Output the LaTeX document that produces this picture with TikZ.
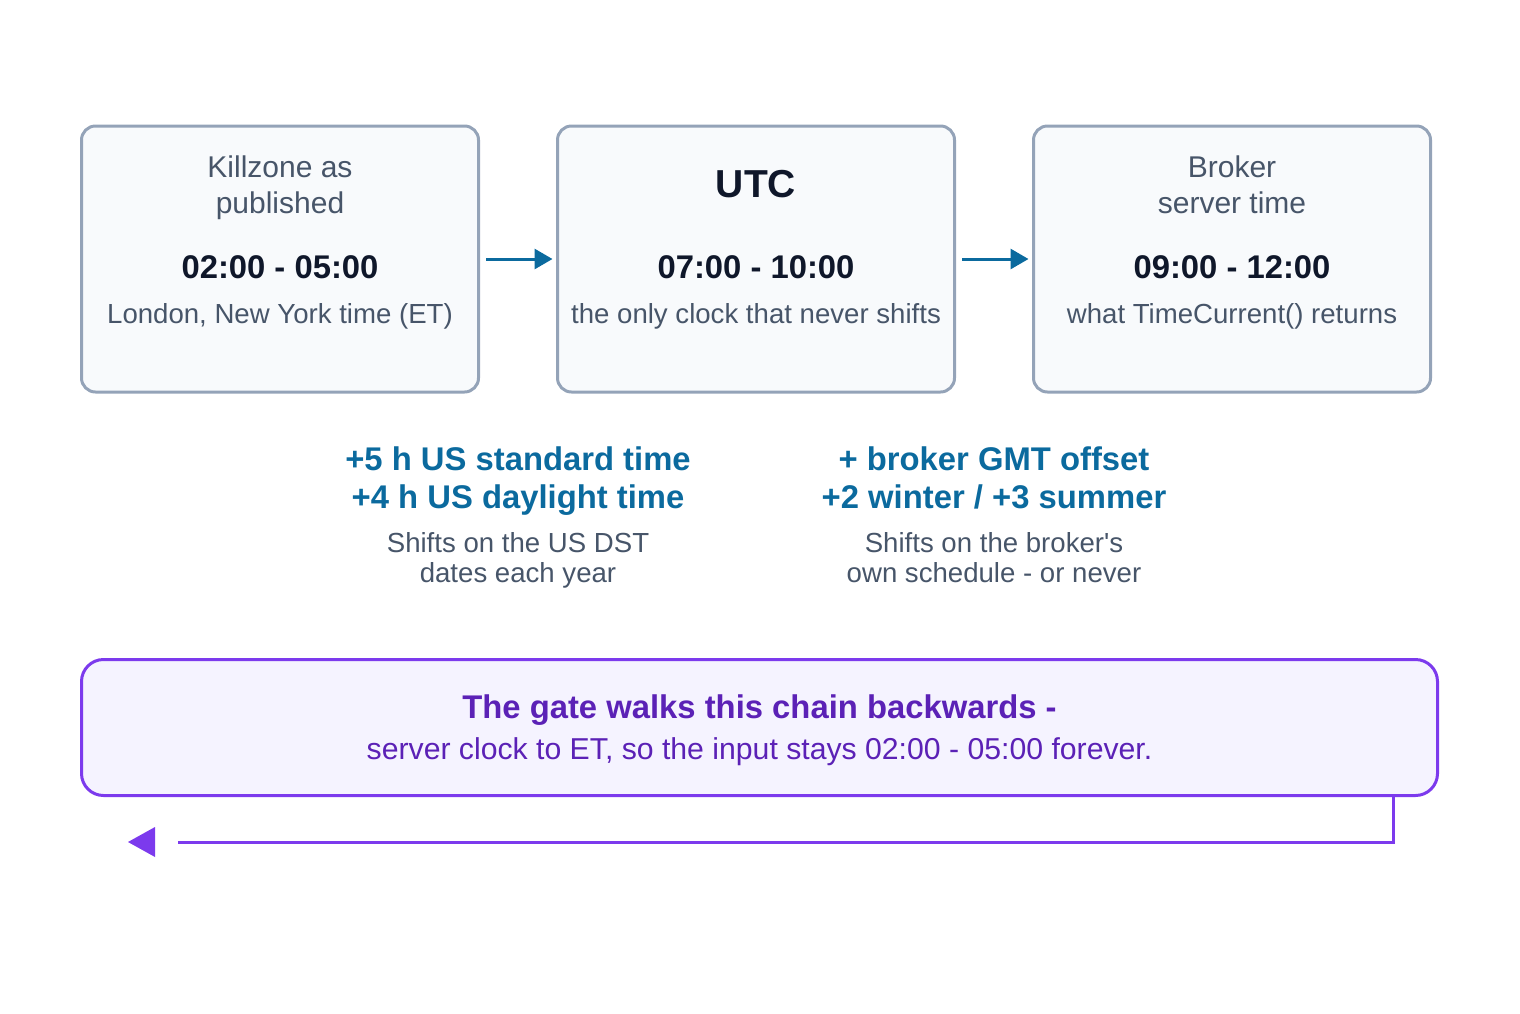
\documentclass[tikz,border=0pt]{standalone}
\usepackage{fontspec}
\setmainfont{Liberation Sans}
\usepackage{xcolor}
\usepackage{tikz}
\usetikzlibrary{arrows.meta}
\definecolor{boxline}{HTML}{94A3B8}
\definecolor{boxfill}{HTML}{F8FAFC}
\definecolor{inktext}{HTML}{0F172A}
\definecolor{softtext}{HTML}{475569}
\definecolor{shiftblue}{HTML}{0B6A9E}
\definecolor{gateline}{HTML}{7C3AED}
\definecolor{gatefill}{HTML}{F5F3FF}
\definecolor{gatetext}{HTML}{5B21B6}
\tikzset{
  clockbox/.style={draw=boxline, fill=boxfill, line width=1.5pt, rounded corners=7pt,
    minimum width=198.5pt, minimum height=133pt, inner sep=0pt},
  gatebox/.style={draw=gateline, fill=gatefill, line width=1.5pt, rounded corners=11pt,
    minimum width=678pt, minimum height=68pt, inner sep=0pt},
  titletext/.style={anchor=base, inner sep=0pt, text=softtext, font=\fontsize{15}{18}\selectfont},
  utctext/.style={anchor=base, inner sep=0pt, text=inktext, font=\bfseries\fontsize{19.5}{23}\selectfont},
  timetext/.style={anchor=base, inner sep=0pt, text=inktext, font=\bfseries\fontsize{16.4}{19}\selectfont},
  subtext/.style={anchor=base, inner sep=0pt, text=softtext, font=\fontsize{13.8}{16}\selectfont},
  shifttext/.style={anchor=base, inner sep=0pt, text=shiftblue, font=\bfseries\fontsize{16.4}{19}\selectfont},
  notetext/.style={anchor=base, inner sep=0pt, text=softtext, font=\fontsize{13.8}{16}\selectfont},
  gatehead/.style={anchor=base, inner sep=0pt, text=gatetext, font=\bfseries\fontsize{16.4}{19}\selectfont},
  gatesub/.style={anchor=base, inner sep=0pt, text=gatetext, font=\fontsize{15.1}{18}\selectfont},
  hop/.style={draw=shiftblue, line width=1.5pt, shorten <=3pt, shorten >=1.75pt,
    -{Triangle[length=9pt,width=10pt]}},
  backline/.style={draw=gateline, line width=1.5pt},
}

\begin{document}
\begin{tikzpicture}[x=0.5pt,y=-0.5pt]
  \useasboundingbox (0,0) rectangle (1520,1013);
  % the three clocks
  \node[clockbox] (published) at (280,259) {};
  \node[clockbox] (utc) at (756,259) {};
  \node[clockbox] (server) at (1232,259) {};
  \node[titletext] (pubtitle) at (280,177) {Killzone as};
  \node[titletext] (pubtitleb) at (280,213) {published};
  \node[timetext] (pubtime) at (280,278) {02:00 - 05:00};
  \node[subtext] (pubsub) at (280,323) {London, New York time (ET)};
  \node[utctext] (utctitle) at (756,197) {UTC};
  \node[timetext] (utctime) at (756,278) {07:00 - 10:00};
  \node[subtext] (utcsub) at (756,323) {the only clock that never shifts};
  \node[titletext] (srvtitle) at (1232,177) {Broker};
  \node[titletext] (srvtitleb) at (1232,213) {server time};
  \node[timetext] (srvtime) at (1232,278) {09:00 - 12:00};
  \node[subtext] (srvsub) at (1232,323) {what TimeCurrent() returns};
  \draw[hop] (published.east) -- (utc.west);
  \draw[hop] (utc.east) -- (server.west);
  % offsets between the clocks
  \node[shifttext] (usstd) at (518,470) {+5 h US standard time};
  \node[shifttext] (usdst) at (518,508) {+4 h US daylight time};
  \node[notetext] (usnote) at (518,552) {Shifts on the US DST};
  \node[notetext] (usnoteb) at (518,582) {dates each year};
  \node[shifttext] (gmtoff) at (994,470) {+ broker GMT offset};
  \node[shifttext] (gmtseason) at (994,508) {+2 winter / +3 summer};
  \node[notetext] (gmtnote) at (994,552) {Shifts on the broker\textquotesingle s};
  \node[notetext] (gmtnoteb) at (994,582) {own schedule - or never};
  % the gate, walking back
  \node[gatebox] (gate) at (759.5,727.5) {};
  \node[gatehead] (gatetitle) at (759.5,718) {The gate walks this chain backwards -};
  \node[gatesub] (gatenote) at (759.5,759) {server clock to ET, so the input stays 02:00 - 05:00 forever.};
  \coordinate (turn) at (1393,842);
  \coordinate (back) at (178,842);
  \coordinate (tip) at (128,842);
  \draw[backline] (gate.south -| turn) -- (turn) -- (back);
  \fill[gateline] (tip) -- ++(27,-15) -- ++(0,30) -- cycle;
\end{tikzpicture}
\end{document}
